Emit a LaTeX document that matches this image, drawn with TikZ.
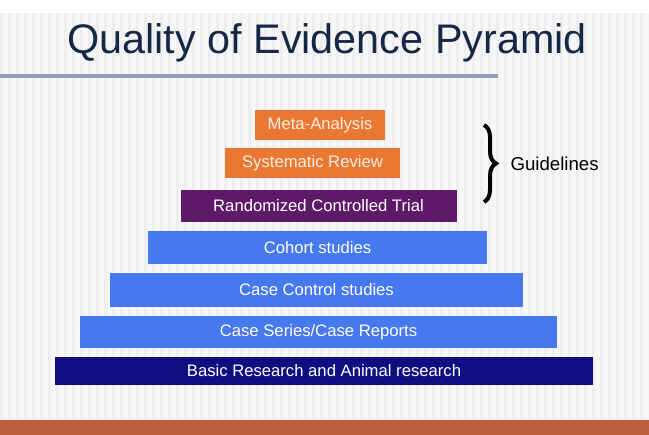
\documentclass[tikz,border=0pt]{standalone}
\usepackage{fontspec}
\setmainfont{Liberation Sans}
\usetikzlibrary{decorations.pathreplacing}
\definecolor{titleblue}{RGB}{22,40,70}
\definecolor{orangebox}{RGB}{235,120,50}
\definecolor{purplebox}{RGB}{95,25,105}
\definecolor{bluebox}{RGB}{70,120,240}
\definecolor{navybox}{RGB}{15,15,130}
\definecolor{rulegray}{RGB}{140,160,185}
\definecolor{barbrown}{RGB}{190,95,60}
\tikzset{every picture/.style={line width=0.75pt}}
\tikzset{
  tier/.style={draw=none,inner sep=0pt,font=\fontsize{12.5}{14}\selectfont,text=white},
}
\begin{document}
\begin{tikzpicture}[x=0.75pt,y=0.75pt,yscale=-1,xscale=1]
\useasboundingbox (0,0) rectangle (649,435);
%background
\fill [gray!6] (0,13) rectangle (649,420);
\foreach \x in {0,8,...,640} {\fill [gray!13] (\x,13) rectangle (\x+3,420);}
%bottom bar
\fill [barbrown] (0,420) rectangle (649,435);
%title rule
\draw [rulegray,line width=3] (0,76) -- (498,76);

% Text Node
\node (title) [anchor=west,inner sep=0pt,font=\fontsize{31}{34}\selectfont,text=titleblue] at (67,43) {Quality of Evidence Pyramid};

% tiers
\node (meta) [tier,fill=orangebox,minimum width=98pt,minimum height=22pt,text=white!88!orangebox] at (320,125) {Meta-Analysis};
\node (sysrev) [tier,fill=orangebox,minimum width=131pt,minimum height=22.5pt,text=white!88!orangebox] at (312.5,163) {Systematic Review};
\node (rct) [tier,fill=purplebox,minimum width=207pt,minimum height=24pt] at (318.5,206) {Randomized Controlled Trial};
\node (cohort) [tier,fill=bluebox,minimum width=254pt,minimum height=25pt] at (317.5,247.5) {Cohort studies};
\node (casectl) [tier,fill=bluebox,minimum width=310pt,minimum height=25.5pt] at (316.5,290) {Case Control studies};
\node (caseser) [tier,fill=bluebox,minimum width=358pt,minimum height=24pt] at (318.5,332) {Case Series/Case Reports};
\node (basic) [tier,fill=navybox,minimum width=403pt,minimum height=21pt] at (324,371) {Basic Research and Animal research};

%brace
\coordinate (bt) at (484,125);
\coordinate (bb) at (484,202);
\draw [line width=3,decorate,decoration={brace,amplitude=9pt}] (bt) -- (bb);
\node (guide) [anchor=west,inner sep=0pt,font=\fontsize{14}{16}\selectfont] at (510,164) {Guidelines};

\end{tikzpicture}
\end{document}
